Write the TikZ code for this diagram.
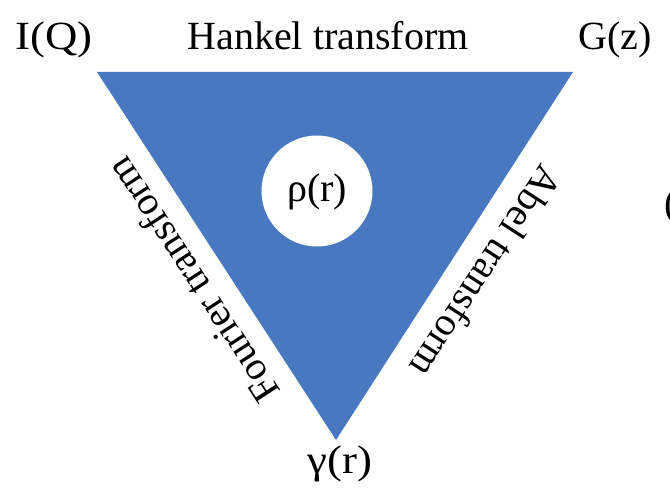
\documentclass[tikz,border=0pt]{standalone}
\usepackage{fontspec}
\setmainfont{Liberation Serif}
\usetikzlibrary{calc,shapes.geometric}
\definecolor{triblue}{RGB}{72,121,192}
\begin{document}
\begin{tikzpicture}[x=1pt,y=1pt,
  lbl/.style={inner sep=0pt, anchor=base, font=\fontsize{40}{48}\selectfont},
  sidelbl/.style={inner sep=0pt, anchor=base, font=\fontsize{40}{48}\selectfont}]
\useasboundingbox (0,0) rectangle (670,490);
\coordinate (A) at (97,418);
\coordinate (B) at (573,418);
\coordinate (C) at (336,50);
\fill[triblue] (A) -- (B) -- (C) -- cycle;
\node[fill=white, ellipse, minimum width=111, minimum height=111, inner sep=0pt] (rho) at (317,299) {};
\node[lbl] (rhotxt) at (317,288) {ρ(r)};
\node[lbl, xscale=1.12] (IQ) at (54,440) {I(Q)};
\node[lbl] (hankel) at (328,440) {Hankel transform};
\node[lbl] (Gz) at (615,440) {G(z)};
\node[lbl, xscale=1.12] (gamma) at (340,16) {γ(r)};
\node[sidelbl, rotate=123] (fourier) at (204,217) {Fourier transform};
\node[sidelbl, rotate=-123] (abel) at (475,225.5) {Abel transform};
\node[inner sep=0pt, anchor=west, font=\fontsize{40}{48}\selectfont] (cut) at (664,283) {(};
\end{tikzpicture}
\end{document}
